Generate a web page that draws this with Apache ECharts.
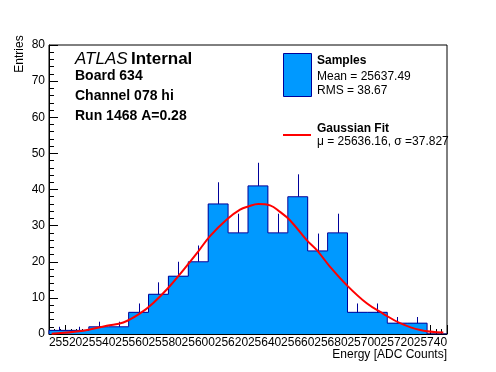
<!DOCTYPE html>
<html>
<head>
<meta charset="utf-8">
<script src="https://cdn.jsdelivr.net/npm/echarts@6/dist/echarts.min.js"></script>
<style>
html,body{margin:0;padding:0;background:#fff;}
#chart{width:496px;height:372px;}
</style>
</head>
<body>
<div id="chart"></div>
<script>
// ---- Data ----
const binLowEdges = [25510,25522,25534,25546,25558,25570,25582,25594,25606,25618,
                     25630,25642,25654,25666,25678,25690,25702,25714,25726,25738];
const binWidth = 12;
const counts = [1,1,2,2,6,11,16,20,36,28,41,28,38,23,28,6,6,3,3,0];
const errors = [1,1,1.4,1.4,2.45,3.3,4,4.5,6,5.3,6.4,5.3,6.2,4.8,5.3,2.45,2.45,1.7,1.7,0];
const fitX = [25511.6,25530.7,25544.8,25554.8,25564.9,25572.9,25582.0,25591.0,25599.1,25607.1,
              25617.2,25625.2,25630.2,25636.2,25643.3,25649.3,25655.3,25665.4,25671.5,25679.5,
              25689.6,25701.6,25711.6,25721.7,25733.8,25747.8];
const fitY = [0.1,0.9,2.3,3.2,5.7,8.6,12.8,17.7,22.3,27.1,
              31.7,34.4,35.3,36.0,35.6,33.8,31.5,26.0,23.2,18.6,
              13.5,8.5,5.6,3.0,1.1,0.4];
const xRange = [25510, 25750];
const yRange = [0, 80];
const yTickStep = 10;
const xTitle = 'Energy [ADC Counts]';
const yTitle = 'Entries';
const infoLines = ['Board 634', 'Channel 078 hi', 'Run 1468 A=0.28'];
const legendTexts = ['Samples', 'Mean = 25637.49', 'RMS = 38.67', 'Gaussian Fit', 'μ = 25636.16, σ =37.827'];

// ---- Build series data ----
const histData = binLowEdges.map((lo, i) => [lo, lo + binWidth, counts[i], errors[i]]);
const outline = [[binLowEdges[0], 0]];
binLowEdges.forEach((lo, i) => outline.push([lo, counts[i]]));
outline.push([binLowEdges[binLowEdges.length - 1] + binWidth, 0]);
const fitData = fitX.map((x, i) => [x, fitY[i]]);

const FILL = '#0099ff', NAVY = '#000099', FONT = 'Liberation Sans, Arial, Helvetica, sans-serif';

const chart = echarts.init(document.getElementById('chart'), null, {renderer: 'canvas'});
chart.setOption({
  animation: false,
  backgroundColor: '#fff',
  grid: {left: 49, top: 45, width: 398, height: 289, show: true, borderColor: '#000', borderWidth: 1, backgroundColor: 'transparent'},
  xAxis: {
    type: 'value', min: xRange[0], max: xRange[1], splitNumber: 12,
    axisLine: {show: true, lineStyle: {color: '#000', width: 1}},
    axisTick: {show: true, inside: true, length: 9, lineStyle: {color: '#000'}},
    minorTick: {show: true, splitNumber: 6, length: 5, lineStyle: {color: '#000'}},
    axisLabel: {show: true, color: '#000', fontSize: 12, fontFamily: FONT, margin: 3, showMinLabel: false, showMaxLabel: false,
      formatter: v => String(v)},
    splitLine: {show: false}
  },
  yAxis: {
    type: 'value', min: yRange[0], max: yRange[1], interval: yTickStep,
    axisLine: {show: true, lineStyle: {color: '#000', width: 1}},
    axisTick: {show: true, inside: true, length: 9, lineStyle: {color: '#000'}},
    minorTick: {show: true, splitNumber: 5, length: 5, lineStyle: {color: '#000'}},
    axisLabel: {show: true, color: '#000', fontSize: 12, fontFamily: FONT, margin: 4},
    splitLine: {show: false}
  },
  series: [
    {
      type: 'custom', name: 'fill', data: histData, z: 2,
      renderItem: function (params, api) {
        const p0 = api.coord([api.value(0), api.value(2)]);
        const p1 = api.coord([api.value(1), 0]);
        const x0 = Math.round(p0[0]), x1 = Math.round(p1[0]);
        const y0 = Math.round(p0[1]), y1 = Math.round(p1[1]);
        return {type: 'rect', shape: {x: x0, y: y0, width: x1 - x0, height: y1 - y0},
          style: {fill: FILL, stroke: null}};
      }
    },
    {
      type: 'line', name: 'outline', data: outline, step: 'end', symbol: 'none', z: 3,
      lineStyle: {color: NAVY, width: 1}
    },
    {
      type: 'custom', name: 'err', data: histData, z: 4,
      renderItem: function (params, api) {
        const v = api.value(2), e = api.value(3);
        if (v <= 0) return null;
        const c = (api.value(0) + api.value(1)) / 2;
        const a = api.coord([c, v]);
        const b = api.coord([c, v + e]);
        return {type: 'line', shape: {x1: Math.round(a[0]) + 0.5, y1: a[1], x2: Math.round(a[0]) + 0.5, y2: b[1]},
          style: {stroke: NAVY, lineWidth: 1}};
      }
    },
    {
      type: 'line', name: 'fit', data: fitData, smooth: 0.4, symbol: 'none', z: 5,
      lineStyle: {color: '#ff0000', width: 2}
    }
  ],
  graphic: [
    {type: 'text', x: 19.5, y: 54, rotation: Math.PI / 2,
      style: {text: yTitle, font: '12px ' + FONT, fill: '#000', align: 'center', verticalAlign: 'middle'}},
    {type: 'text', x: 447, y: 355,
      style: {text: xTitle, font: '12px ' + FONT, fill: '#000', align: 'right', verticalAlign: 'middle'}},
    {type: 'text', x: 75, y: 59,
      style: {rich: {i: {font: 'italic 17px ' + FONT, fill: '#000'}, b: {font: 'bold 17px ' + FONT, fill: '#000'}},
        text: '{i|ATLAS} {b|Internal}', verticalAlign: 'middle'}},
    {type: 'text', x: 75, y: 76, style: {text: infoLines[0], font: 'bold 14px ' + FONT, fill: '#000', verticalAlign: 'middle'}},
    {type: 'text', x: 75, y: 96, style: {text: infoLines[1], font: 'bold 14px ' + FONT, fill: '#000', verticalAlign: 'middle'}},
    {type: 'text', x: 75, y: 116, style: {text: infoLines[2], font: 'bold 14px ' + FONT, fill: '#000', verticalAlign: 'middle'}},
    {type: 'rect', shape: {x: 283.5, y: 53.5, width: 28, height: 43}, style: {fill: FILL, stroke: NAVY, lineWidth: 1}},
    {type: 'line', shape: {x1: 283, y1: 135, x2: 311, y2: 135}, style: {stroke: '#ff0000', lineWidth: 2}},
    {type: 'text', x: 317, y: 61, style: {text: legendTexts[0], font: 'bold 12px ' + FONT, fill: '#000', verticalAlign: 'middle'}},
    {type: 'text', x: 317, y: 77, style: {text: legendTexts[1], font: '12px ' + FONT, fill: '#000', verticalAlign: 'middle'}},
    {type: 'text', x: 317, y: 91, style: {text: legendTexts[2], font: '12px ' + FONT, fill: '#000', verticalAlign: 'middle'}},
    {type: 'text', x: 317, y: 129, style: {text: legendTexts[3], font: 'bold 12px ' + FONT, fill: '#000', verticalAlign: 'middle'}},
    {type: 'text', x: 317, y: 142, style: {text: legendTexts[4], font: '12px ' + FONT, fill: '#000', verticalAlign: 'middle'}}
  ]
});
</script>
</body>
</html>
